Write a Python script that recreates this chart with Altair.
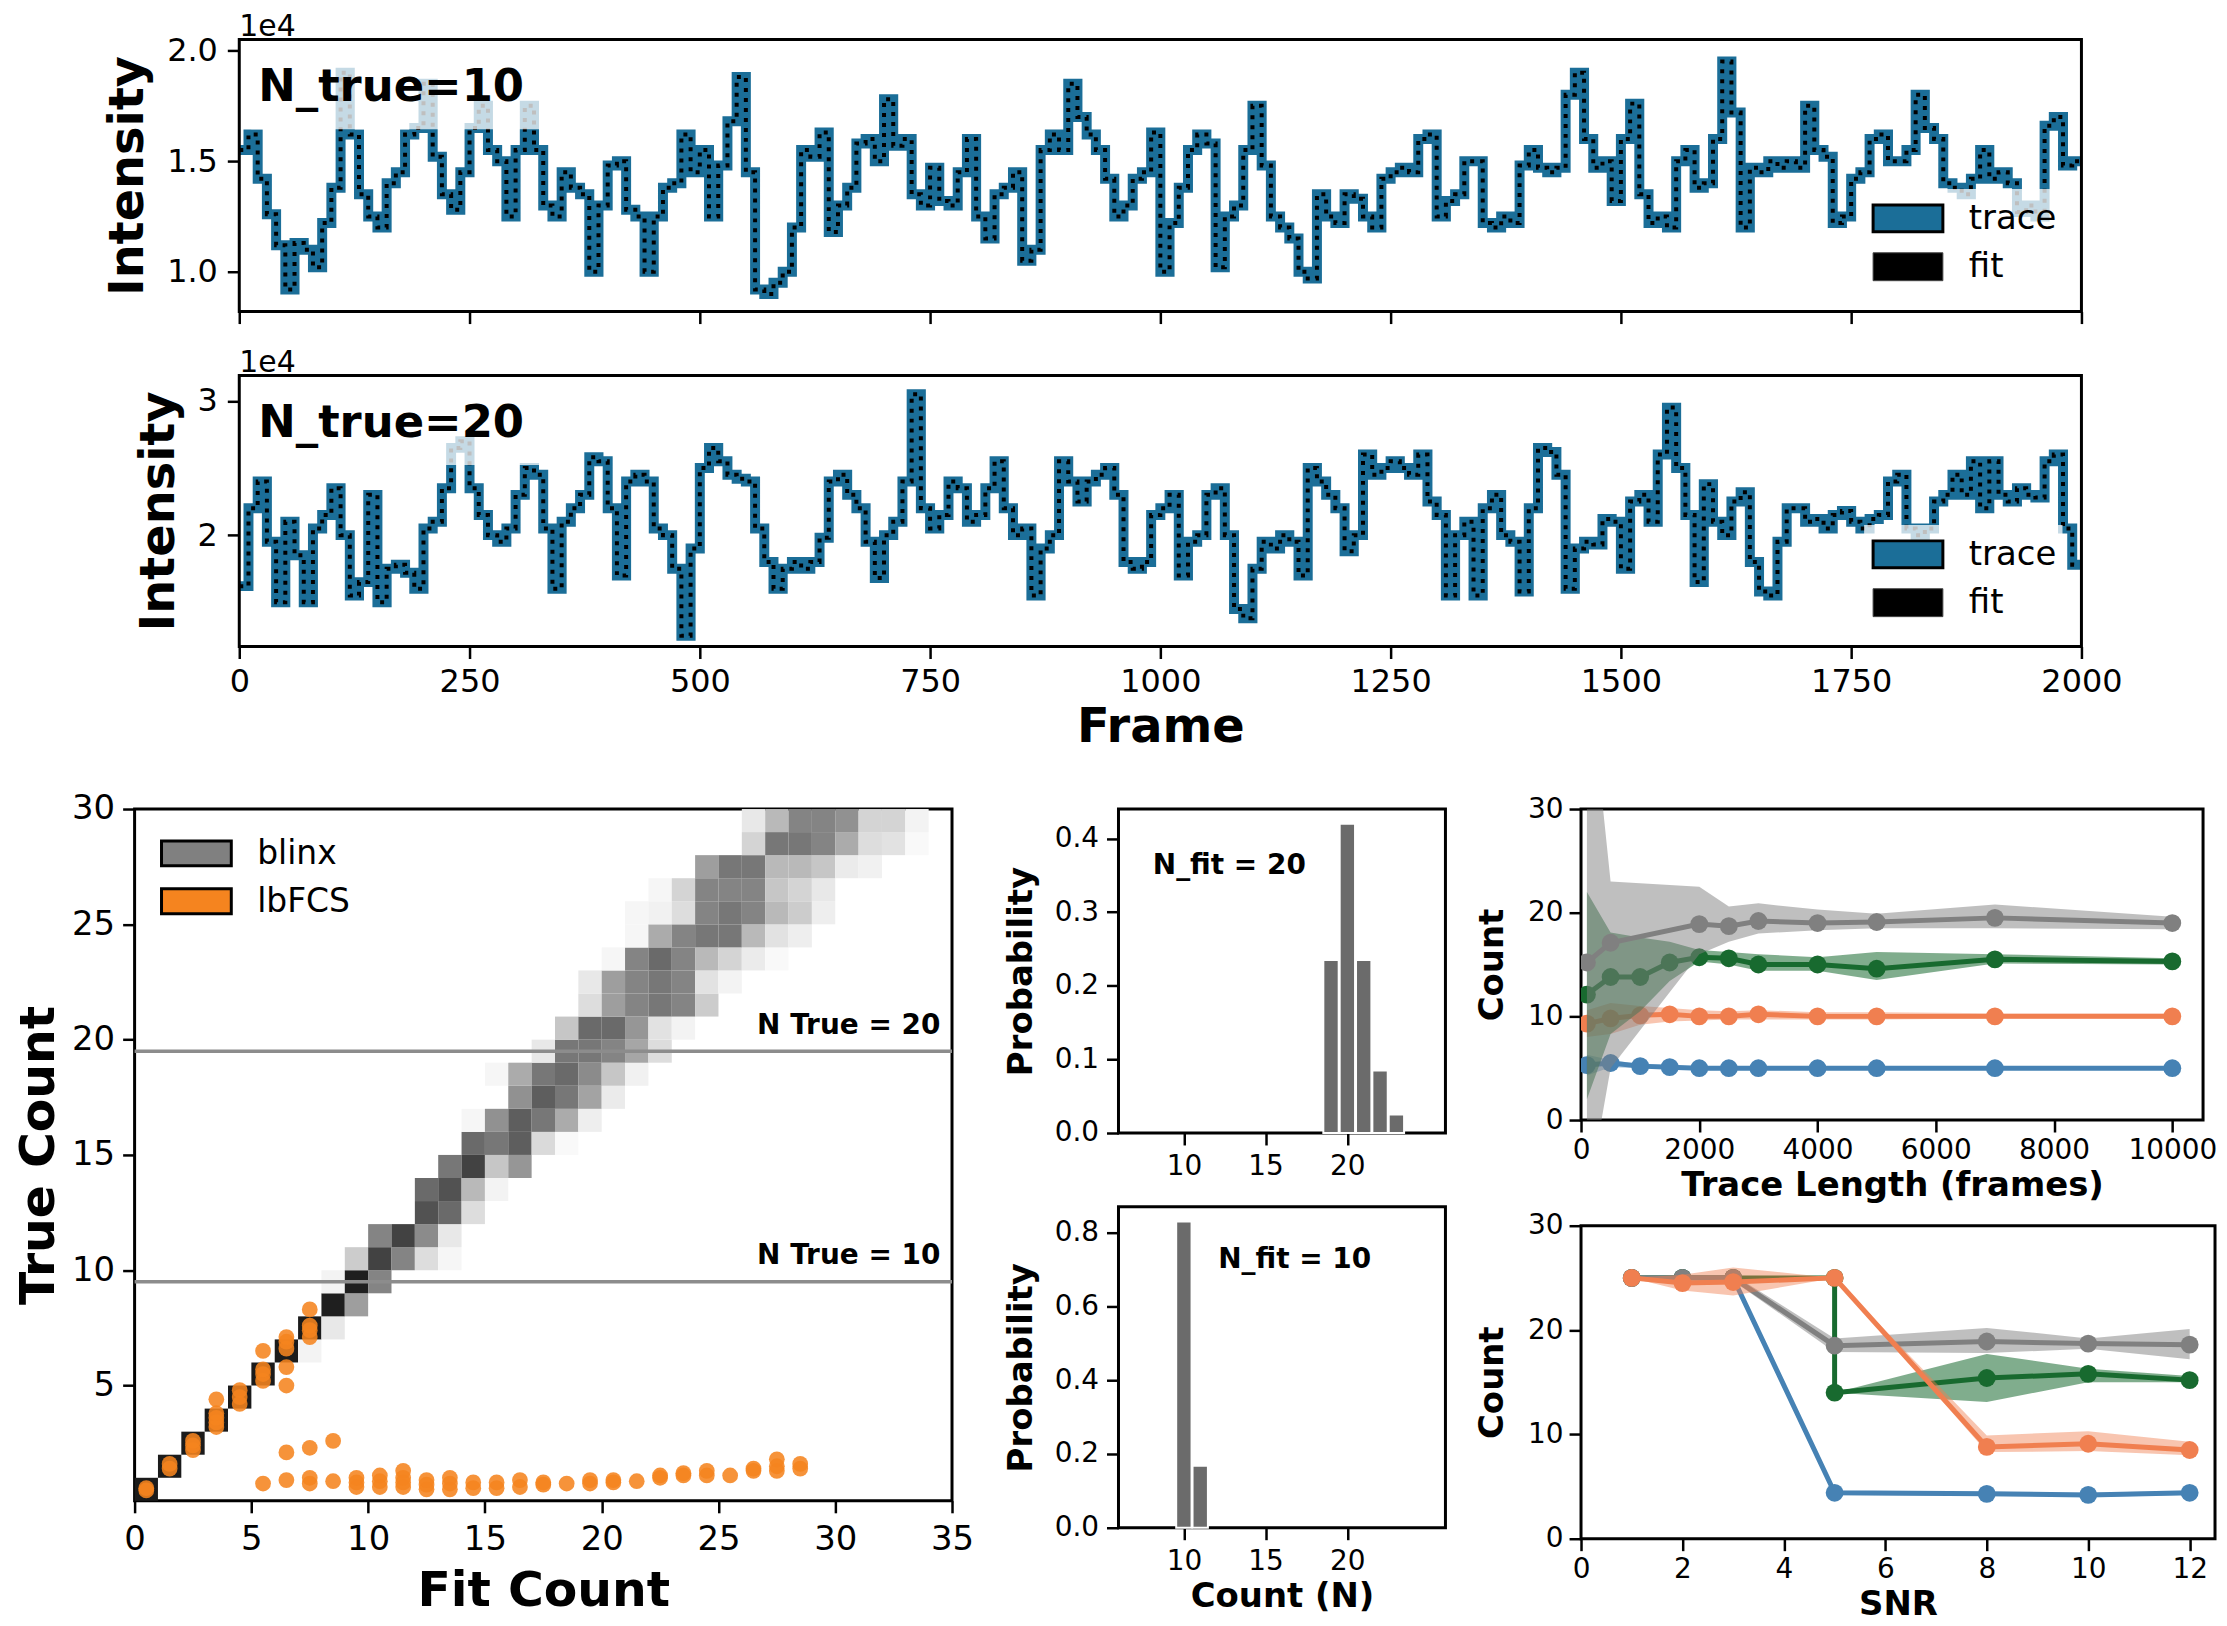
import altair as alt
import pandas as pd

FONT = "DejaVu Sans"

TRACE_BLUE = "#1b6e98"
BLINX_GREY = "#808080"
LBFCS_ORANGE = "#f5841f"
HIST_GREY = "#6b6b6b"
S_BLUE = "#4682b4"
S_ORANGE = "#f07f50"
S_GREEN = "#186a2f"
S_GREY = "#808080"

# ---- intensity traces (x1e4), one value every 10 frames
FRAME_STEP = 10
FRAME_END = 2000
FRAME_TICKS = [0, 250, 500, 750, 1000, 1250, 1500, 1750, 2000]
TRACE_W = 1848          # width of the trace box
TRACE_SHIFT = 105       # trace boxes start this far right of the heatmap box

TRACE_N10 = [
    1.55, 1.62, 1.42, 1.26, 1.12, 0.92, 1.13, 1.10, 1.02, 1.22,
    1.38, 1.90, 1.62, 1.35, 1.25, 1.20, 1.40, 1.45, 1.62, 1.65,
    1.85, 1.52, 1.35, 1.28, 1.45, 1.65, 1.75, 1.55, 1.50, 1.25,
    1.55, 1.75, 1.55, 1.30, 1.25, 1.45, 1.38, 1.35, 1.00, 1.30,
    1.48, 1.50, 1.28, 1.25, 1.00, 1.25, 1.38, 1.40, 1.62, 1.45,
    1.55, 1.25, 1.48, 1.68, 1.88, 1.45, 0.92, 0.90, 0.95, 1.00,
    1.20, 1.55, 1.52, 1.63, 1.18, 1.30, 1.38, 1.58, 1.60, 1.50,
    1.78, 1.57, 1.60, 1.35, 1.30, 1.47, 1.32, 1.30, 1.45, 1.60,
    1.25, 1.15, 1.35, 1.38, 1.45, 1.05, 1.10, 1.55, 1.62, 1.55,
    1.85, 1.70, 1.62, 1.55, 1.42, 1.25, 1.30, 1.42, 1.45, 1.63,
    1.00, 1.22, 1.38, 1.55, 1.62, 1.58, 1.02, 1.25, 1.30, 1.55,
    1.75, 1.48, 1.25, 1.20, 1.15, 1.00, 0.97, 1.35, 1.25, 1.22,
    1.35, 1.33, 1.25, 1.20, 1.42, 1.45, 1.47, 1.45, 1.60, 1.62,
    1.25, 1.32, 1.35, 1.50, 1.50, 1.22, 1.20, 1.25, 1.22, 1.48,
    1.55, 1.47, 1.45, 1.47, 1.80, 1.90, 1.60, 1.47, 1.50, 1.32,
    1.60, 1.76, 1.35, 1.22, 1.25, 1.20, 1.50, 1.55, 1.38, 1.40,
    1.60, 1.95, 1.72, 1.20, 1.47, 1.45, 1.50, 1.47, 1.50, 1.47,
    1.75, 1.55, 1.52, 1.22, 1.25, 1.42, 1.45, 1.60, 1.62, 1.50,
    1.50, 1.55, 1.80, 1.65, 1.60, 1.40, 1.38, 1.35, 1.42, 1.55,
    1.42, 1.45, 1.40, 1.27, 1.30, 1.25, 1.66, 1.70, 1.48, 1.50,
]

TRACE_N20 = [
    1.62, 2.20, 2.40, 1.95, 1.50, 2.10, 1.85, 1.50, 2.05, 2.15,
    2.35, 2.00, 1.55, 1.65, 2.30, 1.50, 1.75, 1.78, 1.72, 1.60,
    2.05, 2.10, 2.35, 2.65, 2.70, 2.35, 2.15, 2.00, 1.95, 2.05,
    2.30, 2.50, 2.45, 2.05, 1.60, 2.10, 2.20, 2.30, 2.58, 2.55,
    2.20, 1.70, 2.40, 2.45, 2.40, 2.05, 2.00, 1.75, 1.25, 1.90,
    2.50, 2.65, 2.55, 2.45, 2.42, 2.40, 2.05, 1.80, 1.60, 1.75,
    1.80, 1.75, 1.80, 1.98, 2.40, 2.45, 2.30, 2.20, 1.95, 1.68,
    2.00, 2.10, 2.40, 3.05, 2.20, 2.05, 2.15, 2.40, 2.35, 2.10,
    2.15, 2.35, 2.55, 2.20, 2.00, 2.05, 1.55, 1.90, 2.00, 2.55,
    2.40, 2.25, 2.40, 2.45, 2.50, 2.30, 1.80, 1.75, 1.80, 2.15,
    2.20, 2.30, 1.70, 1.95, 2.00, 2.30, 2.35, 2.00, 1.45, 1.38,
    1.75, 1.95, 1.90, 2.00, 1.95, 1.70, 2.50, 2.40, 2.30, 2.20,
    1.88, 2.00, 2.60, 2.45, 2.50, 2.55, 2.50, 2.45, 2.60, 2.25,
    2.15, 1.55, 2.00, 2.10, 1.55, 2.20, 2.30, 2.00, 1.95, 1.58,
    2.20, 2.65, 2.62, 2.45, 1.60, 1.90, 1.95, 1.93, 2.12, 2.10,
    1.75, 2.25, 2.30, 2.10, 2.60, 2.95, 2.50, 2.15, 1.65, 2.38,
    2.10, 2.00, 2.25, 2.32, 1.80, 1.58, 1.55, 1.95, 2.20, 2.20,
    2.10, 2.12, 2.05, 2.15, 2.18, 2.10, 2.05, 2.12, 2.15, 2.40,
    2.45, 2.05, 2.00, 2.05, 2.25, 2.30, 2.45, 2.30, 2.55, 2.20,
    2.55, 2.30, 2.25, 2.35, 2.30, 2.28, 2.55, 2.60, 2.05, 1.78,
]

TRACE_LEGEND = ["trace", "fit"]

# ---- fit count vs true count (blinx heatmap, lbFCS scatter)
# (true-count bin, first fit-count bin, grey level of each bin)
HEAT_ROWS = [
    (0, 0, [0.9]),
    (1, 1, [0.9]),
    (2, 2, [0.9]),
    (3, 3, [0.9]),
    (4, 4, [0.9]),
    (5, 5, [0.9]),
    (6, 6, [0.9, 0.04]),
    (7, 7, [0.9, 0.08]),
    (8, 8, [0.88, 0.35]),
    (9, 8, [0.04, 0.88, 0.45]),
    (10, 9, [0.18, 0.72, 0.45, 0.12, 0.03]),
    (11, 10, [0.45, 0.72, 0.42, 0.08]),
    (12, 12, [0.65, 0.55, 0.12]),
    (13, 12, [0.55, 0.65, 0.25, 0.04]),
    (14, 13, [0.5, 0.72, 0.2, 0.38]),
    (15, 14, [0.55, 0.5, 0.6, 0.13, 0.02]),
    (16, 14, [0.03, 0.4, 0.6, 0.5, 0.3, 0.06]),
    (17, 16, [0.4, 0.6, 0.5, 0.33, 0.07]),
    (18, 15, [0.03, 0.3, 0.5, 0.55, 0.42, 0.2, 0.05]),
    (19, 17, [0.08, 0.5, 0.5, 0.45, 0.32, 0.12]),
    (20, 18, [0.2, 0.55, 0.55, 0.38, 0.1, 0.04]),
    (21, 19, [0.12, 0.35, 0.45, 0.5, 0.45, 0.18]),
    (22, 19, [0.08, 0.35, 0.45, 0.5, 0.45, 0.1, 0.04]),
    (23, 20, [0.03, 0.45, 0.55, 0.45, 0.25, 0.15, 0.07, 0.02]),
    (24, 21, [0.03, 0.3, 0.45, 0.5, 0.5, 0.25, 0.1, 0.06]),
    (25, 21, [0.03, 0.05, 0.12, 0.45, 0.5, 0.45, 0.25, 0.18, 0.06]),
    (26, 22, [0.03, 0.15, 0.45, 0.45, 0.45, 0.2, 0.15, 0.08]),
    (27, 24, [0.35, 0.5, 0.5, 0.25, 0.25, 0.2, 0.07, 0.05]),
    (28, 26, [0.15, 0.5, 0.5, 0.45, 0.3, 0.12, 0.1, 0.02]),
    (29, 26, [0.08, 0.25, 0.45, 0.45, 0.4, 0.15, 0.15, 0.04]),
]
FIT_TICKS = [0, 5, 10, 15, 20, 25, 30, 35]
TRUE_TICKS = [5, 10, 15, 20, 25, 30]
GUIDE_Y = [9.5, 19.5]
GUIDE_LABEL_X = [34.5, 34.5]
GUIDE_LABEL_Y = [10.0, 20.0]
GUIDE_TEXT = ["N True = 10", "N True = 20"]
HEAT_LEGEND = ["blinx", "lbFCS"]

LBFCS_FIT = [
    0.5, 0.5, 1.5, 1.5, 2.5, 2.5, 2.5, 3.5, 3.5, 3.5, 3.5, 3.5,
    4.5, 4.5, 4.5, 5.5, 5.5, 5.5, 5.5, 5.5,
    6.5, 6.5, 6.5, 6.5, 6.5, 6.5, 6.5,
    7.5, 7.5, 7.5, 7.5, 7.5, 7.5, 7.5, 8.5, 8.5,
    9.5, 9.5, 9.5, 10.5, 10.5, 10.5, 11.5, 11.5, 11.5, 11.5,
    12.5, 12.5, 12.5, 13.5, 13.5, 13.5, 14.5, 14.5, 15.5, 15.5,
    16.5, 16.5, 17.5, 17.5, 18.5, 19.5, 19.5, 20.5, 20.5, 21.5,
    22.5, 22.5, 23.5, 23.5, 24.5, 24.5, 25.5, 26.5, 26.5,
    27.5, 27.5, 27.5, 28.5, 28.5,
]
LBFCS_TRUE = [
    0.45, 0.55, 1.4, 1.6, 2.2, 2.4, 2.6, 3.2, 3.4, 3.6, 3.8, 4.4,
    4.2, 4.5, 4.8, 5.2, 5.5, 5.7, 6.5, 0.75,
    6.6, 6.9, 7.1, 5.8, 5.0, 2.1, 0.9,
    8.3, 7.1, 7.4, 7.6, 2.3, 0.75, 1.0, 2.6, 0.85,
    0.6, 0.8, 1.0, 0.6, 0.85, 1.1, 1.3, 0.6, 0.8, 1.0,
    0.5, 0.7, 0.9, 0.5, 0.75, 1.0, 0.55, 0.8, 0.55, 0.8,
    0.6, 0.9, 0.7, 0.8, 0.75, 0.75, 0.9, 0.8, 0.9, 0.85,
    1.0, 1.1, 1.1, 1.2, 1.1, 1.3, 1.1, 1.3, 1.4,
    1.3, 1.5, 1.8, 1.4, 1.6,
]

# ---- fitted count distributions
HIST_X_TICKS = [10, 15, 20]
HIST20_N = [19, 20, 21, 22, 23]
HIST20_P = [0.235, 0.42, 0.235, 0.085, 0.025]
HIST20_TICKS = [0.0, 0.1, 0.2, 0.3, 0.4]
HIST10_N = [10, 11]
HIST10_P = [0.83, 0.168]
HIST10_TICKS = [0.0, 0.2, 0.4, 0.6, 0.8]

# ---- count vs trace length
LENGTHS = [100, 500, 1000, 1500, 2000, 2500, 3000, 4000, 5000, 7000, 10000]
LENGTHS_GREY = [100, 500, 2000, 2500, 3000, 4000, 5000, 7000, 10000]
LENGTH_TICKS = [0, 2000, 4000, 6000, 8000, 10000]
GREY_LEN_MEAN = [15.2, 17.1, 18.9, 18.7, 19.2, 19.0, 19.1, 19.5, 19.0]
GREY_LEN_LO = [-8.0, 5.0, 16.0, 17.2, 18.0, 18.3, 18.5, 18.5, 18.4]
GREY_LEN_HI = [45.0, 23.0, 22.5, 20.6, 20.9, 20.3, 19.9, 20.8, 19.6]
GREEN_LEN_MEAN = [12.1, 13.8, 13.8, 15.2, 15.7, 15.6, 15.0, 15.0, 14.6, 15.5, 15.3]
GREEN_LEN_LO = [2.0, 8.3, 10.5, 13.4, 15.3, 15.0, 14.4, 14.4, 13.5, 15.1, 15.0]
GREEN_LEN_HI = [22.0, 18.1, 17.6, 17.2, 16.4, 16.2, 16.0, 15.7, 16.2, 16.0, 15.6]
ORANGE_LEN_MEAN = [9.3, 9.8, 10.1, 10.2, 10.0, 10.0, 10.2, 10.0, 10.0, 10.0, 10.0]
ORANGE_LEN_LO = [8.0, 8.3, 9.2, 9.5, 9.6, 9.7, 9.7, 9.7, 9.7, 9.8, 9.8]
ORANGE_LEN_HI = [10.6, 11.3, 11.0, 10.8, 10.6, 10.5, 10.6, 10.4, 10.4, 10.3, 10.3]
BLUE_LEN_MEAN = [5.3, 5.5, 5.2, 5.1, 5.0, 5.0, 5.0, 5.0, 5.0, 5.0, 5.0]
BLUE_LEN_LO = [4.3, 5.1, 5.0, 4.9, 4.85, 4.85, 4.85, 4.85, 4.85, 4.85, 4.85]
BLUE_LEN_HI = [6.3, 5.8, 5.4, 5.3, 5.15, 5.15, 5.15, 5.15, 5.15, 5.15, 5.15]

# ---- count vs SNR
SNR = [1, 2, 3, 5, 8, 10, 12]
SNR_GREEN = [1, 2, 3, 5, 5, 8, 10, 12]
SNR_TICKS = [0, 2, 4, 6, 8, 10, 12]
GREY_SNR_MEAN = [25.0, 25.0, 25.0, 18.5, 18.9, 18.7, 18.6]
GREY_SNR_LO = [25.0, 24.8, 24.7, 17.9, 17.8, 18.2, 17.2]
GREY_SNR_HI = [25.0, 25.2, 25.3, 19.2, 20.2, 19.2, 20.1]
GREEN_SNR_MEAN = [25.0, 25.0, 25.0, 25.0, 14.0, 15.4, 15.8, 15.2]
GREEN_SNR_LO = [25.0, 25.0, 25.0, 25.0, 14.0, 13.1, 15.0, 15.0]
GREEN_SNR_HI = [25.0, 25.0, 25.0, 25.0, 14.0, 17.7, 16.3, 15.6]
ORANGE_SNR_MEAN = [25.0, 24.5, 24.6, 25.0, 8.8, 9.1, 8.5]
ORANGE_SNR_LO = [25.0, 23.8, 23.3, 25.0, 8.3, 8.4, 8.0]
ORANGE_SNR_HI = [25.0, 25.3, 26.0, 25.0, 9.9, 10.3, 9.3]
BLUE_SNR_MEAN = [25.0, 25.0, 25.0, 4.4, 4.3, 4.2, 4.4]
BLUE_SNR_LO = [24.8, 24.8, 24.8, 4.2, 4.1, 4.0, 4.2]
BLUE_SNR_HI = [25.2, 25.2, 25.2, 4.6, 4.5, 4.4, 4.6]
COUNT_TICKS = [0, 10, 20, 30]


def one_row():
    return pd.DataFrame({"k": [0]})


def pixel_rect(x0, x1, y0, y1, **style):
    return alt.Chart(one_row()).mark_rect(**style).encode(
        x=alt.value(x0), x2=alt.value(x1), y=alt.value(y0), y2=alt.value(y1)
    )


def pixel_text(txt, x0, y0, size, weight="normal", align="left", baseline="middle", color="black"):
    return alt.Chart(one_row()).mark_text(
        text=txt, font=FONT, fontSize=size, fontWeight=weight,
        align=align, baseline=baseline, color=color
    ).encode(x=alt.value(x0), y=alt.value(y0))


def trace_panel(values, note, y_domain, y_ticks, y_format, bottom, height):
    frames = [i * FRAME_STEP for i in range(len(values))] + [FRAME_END]
    df = pd.DataFrame({"frame": frames, "value": values + values[-1:]})
    s = TRACE_SHIFT
    # extend the frame scale to the left so that frame 0 sits TRACE_SHIFT px into the view
    x_min = -FRAME_END * s / TRACE_W
    if bottom:
        x_axis = alt.Axis(values=FRAME_TICKS, format="d", title="Frame", labelFontSize=32,
                          titleFontSize=48, labelPadding=8, titlePadding=6, titleX=s + TRACE_W / 2)
    else:
        x_axis = alt.Axis(values=FRAME_TICKS, labels=False, title=None)
    x_scale = alt.Scale(domain=[x_min, FRAME_END], nice=False, zero=False)
    y_scale = alt.Scale(domain=y_domain, nice=False, zero=False)
    x = alt.X("frame:Q", scale=x_scale, axis=x_axis)
    y = alt.Y("value:Q", scale=y_scale,
              axis=alt.Axis(values=y_ticks, format=y_format, title="Intensity", offset=-s,
                            labelFontSize=32, titleFontSize=48, labelPadding=10, titlePadding=14))
    trace = alt.Chart(df).mark_line(color=TRACE_BLUE, strokeWidth=10, interpolate="step-after").encode(x=x, y=y)
    fit = alt.Chart(df).mark_line(color="black", strokeWidth=4, strokeDash=[4, 6],
                                  interpolate="step-after").encode(x=x, y=y)
    frame_box = alt.Chart(pd.DataFrame({"x0": [0], "x1": [FRAME_END], "y0": [y_domain[0]], "y1": [y_domain[1]]})).mark_rect(
        fillOpacity=0, stroke="black", strokeWidth=3
    ).encode(x=alt.X("x0:Q", scale=x_scale, axis=x_axis), x2="x1:Q",
             y=alt.Y("y0:Q", scale=y_scale), y2="y1:Q")
    layers = [
        trace,
        fit,
        pixel_rect(s + 12, s + 306, 4, 90, color="white", opacity=0.75),
        pixel_rect(s + 1630, s + 1829, 150, 258, color="white", opacity=0.75),
        pixel_text(note, s + 19, 48, 45, weight="bold"),
        pixel_rect(s + 1639, s + 1709, 166, 193, color=TRACE_BLUE, stroke="black", strokeWidth=3),
        pixel_rect(s + 1639, s + 1709, 214, 242, color="black", stroke="#444444", strokeWidth=1),
        pixel_text(TRACE_LEGEND[0], s + 1735, 180, 34),
        pixel_text(TRACE_LEGEND[1], s + 1735, 228, 34),
        pixel_text("1e4", s, -3, 30, baseline="alphabetic"),
        frame_box,
    ]
    return alt.layer(*layers).properties(
        width=TRACE_W + s, height=height, view=alt.ViewBackground(stroke="transparent")
    )


def heat_panel():
    rows = []
    for true_bin, first_fit, levels in HEAT_ROWS:
        for j, level in enumerate(levels):
            rows.append({"fit": first_fit + j, "true": true_bin, "level": level})
    cells_df = pd.DataFrame(rows)

    x_scale = alt.Scale(domain=[0, 35], nice=False, zero=False)
    y_scale = alt.Scale(domain=[0, 30], nice=False, zero=False)
    x_axis = alt.Axis(values=FIT_TICKS, title="Fit Count", labelFontSize=34,
                      titleFontSize=49, labelPadding=10, titlePadding=10)
    y_axis = alt.Axis(values=TRUE_TICKS, title="True Count", labelFontSize=34,
                      titleFontSize=49, labelPadding=8, titlePadding=8)

    def X(f):
        return alt.X(f, scale=x_scale, axis=x_axis)

    def Y(f):
        return alt.Y(f, scale=y_scale, axis=y_axis)

    cells = alt.Chart(cells_df).transform_calculate(
        fit_end="datum.fit + 1", true_end="datum.true + 1"
    ).mark_rect().encode(
        x=X("fit:Q"), x2="fit_end:Q", y=Y("true:Q"), y2="true_end:Q",
        color=alt.Color("level:Q", scale=alt.Scale(domain=[0, 1], range=["#ffffff", "#000000"]), legend=None),
    )
    guides = alt.Chart(pd.DataFrame({"y": GUIDE_Y})).mark_rule(
        color="#8c8c8c", strokeWidth=3.5).encode(y=Y("y:Q"))
    guide_text = alt.Chart(pd.DataFrame({"x": GUIDE_LABEL_X, "y": GUIDE_LABEL_Y, "t": GUIDE_TEXT})).mark_text(
        align="right", baseline="bottom", font=FONT, fontSize=28, fontWeight="bold", color="black"
    ).encode(x=X("x:Q"), y=Y("y:Q"), text="t:N")
    dots = alt.Chart(pd.DataFrame({"fit": LBFCS_FIT, "true": LBFCS_TRUE})).mark_circle(
        size=250, color=LBFCS_ORANGE, opacity=0.88).encode(x=X("fit:Q"), y=Y("true:Q"))

    layers = [
        cells, guides, guide_text, dots,
        pixel_rect(27, 97, 32, 57, color=BLINX_GREY, stroke="black", strokeWidth=3),
        pixel_rect(27, 97, 80, 105, color=LBFCS_ORANGE, stroke="black", strokeWidth=3),
        pixel_text(HEAT_LEGEND[0], 123, 45, 33),
        pixel_text(HEAT_LEGEND[1], 123, 93, 33),
    ]
    return alt.layer(*layers).properties(width=820, height=694)


def hist_panel(ns, ps, y_max, y_ticks, note, note_x, note_y, x_title, height):
    df = pd.DataFrame({"n": ns, "p": ps})
    x_scale = alt.Scale(domain=[6, 26], nice=False, zero=False)
    y_scale = alt.Scale(domain=[0, y_max], nice=False)
    x_axis = alt.Axis(values=HIST_X_TICKS, title=x_title, labelFontSize=28,
                      titleFontSize=34, labelPadding=8, titlePadding=4)
    y_axis = alt.Axis(values=y_ticks, format=".1f", title="Probability", labelFontSize=28,
                      titleFontSize=34, labelPadding=8, titlePadding=16)
    bars = alt.Chart(df).transform_calculate(
        lo="datum.n - 0.47", hi="datum.n + 0.47", base="0"
    ).mark_rect(color=HIST_GREY, stroke="white", strokeWidth=2).encode(
        x=alt.X("lo:Q", scale=x_scale, axis=x_axis), x2="hi:Q",
        y=alt.Y("p:Q", scale=y_scale, axis=y_axis), y2="base:Q",
    )
    text = alt.Chart(pd.DataFrame({"x": [note_x], "y": [note_y], "t": [note]})).mark_text(
        align="left", baseline="middle", font=FONT, fontSize=28, fontWeight="bold", color="black"
    ).encode(x=alt.X("x:Q", scale=x_scale, axis=x_axis), y=alt.Y("y:Q", scale=y_scale, axis=y_axis), text="t:N")
    return alt.layer(bars, text).properties(width=328, height=height)


def series_layers(xs, mean, lo, hi, color, band_opacity, X, Y):
    df = pd.DataFrame({"x": xs, "m": mean, "lo": lo, "hi": hi, "i": list(range(len(xs)))})
    band = alt.Chart(df).mark_area(color=color, opacity=band_opacity, clip=True).encode(
        x=X("x:Q"), y=Y("lo:Q"), y2="hi:Q")
    line = alt.Chart(df).mark_line(color=color, strokeWidth=5, clip=True).encode(
        x=X("x:Q"), y=Y("m:Q"), order="i:Q")
    dots = alt.Chart(df).mark_circle(color=color, size=320, opacity=1, clip=True).encode(
        x=X("x:Q"), y=Y("m:Q"))
    return [band, line, dots]


def axes_for(x_domain, x_ticks, x_title):
    x_scale = alt.Scale(domain=x_domain, nice=False, zero=False)
    y_scale = alt.Scale(domain=[0, 30], nice=False, zero=False)
    x_axis = alt.Axis(values=x_ticks, format="d", title=x_title, labelFontSize=28, titleFontSize=34,
                      labelPadding=5, titlePadding=4)
    y_axis = alt.Axis(values=COUNT_TICKS, title="Count", labelFontSize=28, titleFontSize=34,
                      labelPadding=6, titlePadding=18)

    def X(f):
        return alt.X(f, scale=x_scale, axis=x_axis)

    def Y(f):
        return alt.Y(f, scale=y_scale, axis=y_axis)

    return X, Y


def length_panel():
    X, Y = axes_for([0, 10520], LENGTH_TICKS, "Trace Length (frames)")
    layers = (
        series_layers(LENGTHS, BLUE_LEN_MEAN, BLUE_LEN_LO, BLUE_LEN_HI, S_BLUE, 0.4, X, Y)
        + series_layers(LENGTHS, ORANGE_LEN_MEAN, ORANGE_LEN_LO, ORANGE_LEN_HI, S_ORANGE, 0.45, X, Y)
        + series_layers(LENGTHS, GREEN_LEN_MEAN, GREEN_LEN_LO, GREEN_LEN_HI, S_GREEN, 0.55, X, Y)
        + series_layers(LENGTHS_GREY, GREY_LEN_MEAN, GREY_LEN_LO, GREY_LEN_HI, S_GREY, 0.5, X, Y)
    )
    return alt.layer(*layers).properties(width=624, height=312)


def snr_panel():
    X, Y = axes_for([0, 12.5], SNR_TICKS, "SNR")
    layers = (
        series_layers(SNR, BLUE_SNR_MEAN, BLUE_SNR_LO, BLUE_SNR_HI, S_BLUE, 0.4, X, Y)
        + series_layers(SNR_GREEN, GREEN_SNR_MEAN, GREEN_SNR_LO, GREEN_SNR_HI, S_GREEN, 0.55, X, Y)
        + series_layers(SNR, GREY_SNR_MEAN, GREY_SNR_LO, GREY_SNR_HI, S_GREY, 0.5, X, Y)
        + series_layers(SNR, ORANGE_SNR_MEAN, ORANGE_SNR_LO, ORANGE_SNR_HI, S_ORANGE, 0.45, X, Y)
    )
    return alt.layer(*layers).properties(width=636, height=314)


top = alt.vconcat(
    trace_panel(TRACE_N10, "N_true=10", [0.82, 2.05], [1.0, 1.5, 2.0], ".1f", False, 273),
    trace_panel(TRACE_N20, "N_true=20", [1.17, 3.19], [2, 3], "d", True, 272),
    spacing=20,
)

hists = alt.vconcat(
    hist_panel(HIST20_N, HIST20_P, 0.44, HIST20_TICKS, "N_fit = 20", 8.1, 0.363, None, 325),
    hist_panel(HIST10_N, HIST10_P, 0.87, HIST10_TICKS, "N_fit = 10", 12.1, 0.725, "Count (N)", 322),
    spacing=22,
)
rights = alt.vconcat(length_panel(), snr_panel(), spacing=5)
bottom = alt.hconcat(heat_panel(), hists, rights, spacing=26)

chart = alt.vconcat(top, bottom, spacing=37).properties(
    padding={"left": 5, "top": 0, "right": 0, "bottom": 2}
).configure_view(
    stroke="black", strokeWidth=3
).configure_axis(
    domain=False, grid=False, tickColor="black", tickWidth=2.5, tickSize=12,
    labelColor="black", titleColor="black", labelFont=FONT, titleFont=FONT,
    titleFontWeight="bold", labelFlush=False, labelOverlap=False,
)

chart.save("out.html", embed_options={"renderer": "svg", "actions": False})
